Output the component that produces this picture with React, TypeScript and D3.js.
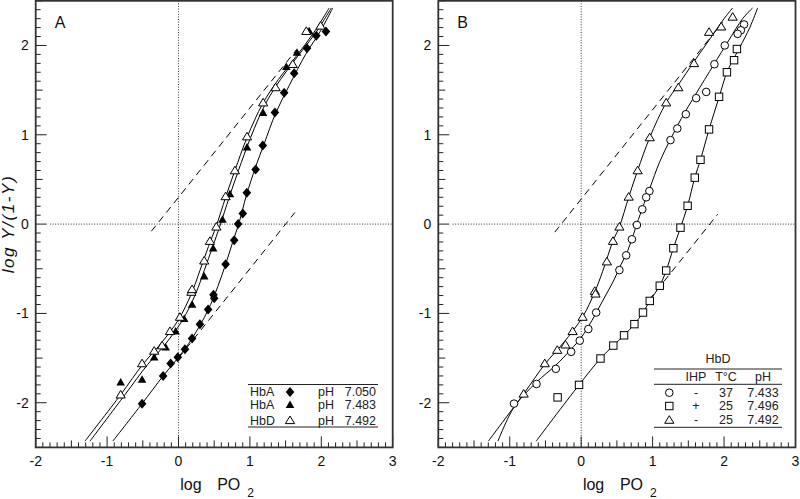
import React from "react";
import * as d3 from "d3";

const W = 800;
const H = 499;
const FONT = "'Liberation Sans', Arial, Helvetica, sans-serif";

// ---------- Panel A data (log PO2, log Y/(1-Y)) ----------
const hbA7050: [number, number][] = [
  [2.065, 2.155], [1.93, 2.11], [1.8, 1.97], [1.62, 1.69], [1.48, 1.47], [1.35, 1.25],
  [1.18, 0.88], [1.08, 0.61], [0.957, 0.35], [0.9, 0.12], [0.835, 0.0], [0.78, -0.18],
  [0.66, -0.45], [0.49, -0.79], [0.5, -0.83], [0.415, -0.955], [0.3, -1.12], [0.19, -1.28],
  [0.09, -1.4], [-0.01, -1.49], [-0.11, -1.56], [-0.215, -1.7], [-0.51, -2.01],
];
const hbA7483: [number, number][] = [
  [1.83, 2.16], [1.66, 1.92], [1.51, 1.76], [1.185, 1.245], [0.96, 0.86], [0.72, 0.336],
  [0.616, 0.05], [0.485, -0.27], [0.36, -0.585], [0.19, -0.9], [0.08, -1.06], [-0.04, -1.2],
  [-0.18, -1.38], [-0.34, -1.49], [-0.51, -1.74], [-0.81, -1.77],
];
const hbD7492A: [number, number][] = [
  [1.99, 2.22], [1.79, 2.16], [1.6, 1.79], [1.36, 1.53], [1.185, 1.36], [0.96, 0.98],
  [0.79, 0.6], [0.66, 0.31], [0.53, -0.03], [0.44, -0.19], [0.36, -0.41], [0.18, -0.76],
  [0.19, -0.73], [0.02, -1.04], [-0.12, -1.2], [-0.23, -1.36], [-0.34, -1.42], [-0.51, -1.56],
  [-0.81, -1.91],
];

// fitted curves, panel A
const fitA7050: [number, number][] = [
  [-0.92, -2.43], [-0.51, -2.01], [-0.215, -1.7], [0.0, -1.49], [0.19, -1.28], [0.41, -0.97],
  [0.55, -0.7], [0.66, -0.45], [0.76, -0.2], [0.85, 0.02], [0.95, 0.32], [1.08, 0.64],
  [1.2, 0.9], [1.36, 1.24], [1.55, 1.55], [1.78, 1.9], [1.98, 2.15], [2.16, 2.42],
];
const fitA7483: [number, number][] = [
  [-1.24, -2.43], [-0.75, -1.91], [-0.43, -1.57], [-0.18, -1.34], [0.06, -1.07], [0.24, -0.78],
  [0.36, -0.52], [0.48, -0.25], [0.58, -0.02], [0.71, 0.3], [0.84, 0.6], [1.01, 0.97],
  [1.22, 1.35], [1.43, 1.62], [1.67, 1.88], [1.92, 2.14], [2.14, 2.42],
];
const fitA7492: [number, number][] = [
  [-1.31, -2.43], [-0.81, -1.91], [-0.5, -1.57], [-0.25, -1.34], [0.0, -1.07], [0.18, -0.78],
  [0.3, -0.52], [0.42, -0.25], [0.53, -0.02], [0.66, 0.3], [0.79, 0.6], [0.96, 0.97],
  [1.18, 1.35], [1.4, 1.62], [1.65, 1.88], [1.9, 2.15], [2.11, 2.42],
];
const asymA: [number, number][][] = [
  [[-0.38, -0.08], [1.65, 1.95]],
  [[0.0, -1.5], [1.63, 0.13]],
];

// ---------- Panel B data ----------
const circB: [number, number][] = [
  [2.28, 2.235], [2.235, 2.17], [2.19, 2.13], [2.01, 2.0], [1.865, 1.79], [1.75, 1.48],
  [1.61, 1.41], [1.465, 1.23], [1.345, 1.07], [1.25, 0.94], [0.955, 0.37], [0.91, 0.3],
  [0.855, 0.165], [0.78, -0.01], [0.71, -0.17], [0.63, -0.35], [0.535, -0.515], [0.21, -0.99],
  [0.1, -1.175], [-0.02, -1.305], [-0.14, -1.43], [-0.355, -1.62], [-0.625, -1.79], [-0.94, -2.01],
];
const squareB: [number, number][] = [
  [2.18, 1.96], [2.14, 1.835], [2.04, 1.7], [1.93, 1.425], [1.79, 1.06], [1.67, 0.72],
  [1.59, 0.52], [1.49, 0.205], [1.39, -0.04], [1.29, -0.27], [1.19, -0.52], [1.1, -0.69],
  [0.96, -0.86], [0.865, -0.99], [0.745, -1.12], [0.6, -1.245], [0.45, -1.36], [0.27, -1.505],
  [-0.03, -1.8], [-0.33, -1.94],
];
const triB: [number, number][] = [
  [2.12, 2.32], [1.96, 2.21], [1.79, 2.15], [1.58, 1.8], [1.36, 1.53], [1.19, 1.36],
  [0.96, 0.97], [0.79, 0.6], [0.665, 0.305], [0.535, -0.03], [0.445, -0.19], [0.36, -0.42],
  [0.19, -0.75], [0.2, -0.78], [0.02, -1.04], [-0.12, -1.2], [-0.22, -1.35], [-0.335, -1.41],
  [-0.51, -1.56], [-0.805, -1.9],
];
const fitCircB: [number, number][] = [
  [-1.165, -2.43], [-0.94, -2.05], [-0.625, -1.77], [-0.355, -1.58], [-0.14, -1.4], [0.0, -1.27],
  [0.15, -1.08], [0.3, -0.86], [0.45, -0.64], [0.56, -0.45], [0.65, -0.3], [0.73, -0.12],
  [0.8, 0.05], [0.88, 0.23], [0.96, 0.4], [1.1, 0.7], [1.25, 0.95], [1.4, 1.18], [1.6, 1.45],
  [1.86, 1.79], [2.06, 2.05], [2.26, 2.3], [2.4, 2.42],
];
const fitSquareB: [number, number][] = [
  [-0.63, -2.43], [-0.03, -1.8], [0.27, -1.505], [0.45, -1.36], [0.6, -1.245], [0.745, -1.12],
  [0.865, -0.99], [0.96, -0.86], [1.1, -0.69], [1.19, -0.52], [1.29, -0.27], [1.39, -0.04],
  [1.49, 0.205], [1.59, 0.52], [1.67, 0.72], [1.79, 1.06], [1.93, 1.42], [2.04, 1.7],
  [2.14, 1.86], [2.22, 1.98], [2.36, 2.2], [2.47, 2.42],
];
const fitTriB: [number, number][] = [
  [-1.3, -2.43], [-0.805, -1.9], [-0.51, -1.57], [-0.25, -1.33], [0.02, -1.04], [0.19, -0.76],
  [0.3, -0.53], [0.445, -0.19], [0.535, -0.03], [0.665, 0.3], [0.79, 0.6], [0.96, 0.97],
  [1.19, 1.36], [1.36, 1.56], [1.58, 1.82], [1.79, 2.06], [2.0, 2.3], [2.12, 2.42],
];
const asymB: [number, number][][] = [
  [[-0.37, -0.09], [1.98, 2.26]],
  [[0.95, -0.85], [1.91, 0.11]],
];

// ---------- ticks / labels ----------
const xTicks = [-2, -1, 0, 1, 2, 3];
const yTicks = [-2, -1, 0, 1, 2];
const legendA = [
  { name: "HbA", sym: "diamond", ph: "pH", val: "7.050" },
  { name: "HbA", sym: "tri", ph: "pH", val: "7.483" },
  { name: "HbD", sym: "otri", ph: "pH", val: "7.492" },
];
const legendBHead = ["IHP", "T°C", "pH"];
const legendB = [
  { sym: "circle", ihp: "-", t: "37", ph: "7.433" },
  { sym: "square", ihp: "+", t: "25", ph: "7.496" },
  { sym: "otri", ihp: "-", t: "25", ph: "7.492" },
];

const yScale = d3.scaleLinear().domain([-2.5, 2.5]).range([447.4, 0.8]);
const xScaleA = d3.scaleLinear().domain([-2, 3]).range([35.7, 392.7]);
const xScaleB = d3.scaleLinear().domain([-2, 3]).range([438.3, 795.5]);

function Marker({ type, cx, cy }: { type: string; cx: number; cy: number }) {
  const s = 1;
  switch (type) {
    case "diamond":
      return <path d={`M${cx},${cy - 5}L${cx + 4.3},${cy}L${cx},${cy + 5}L${cx - 4.3},${cy}Z`} fill="#000" />;
    case "tri":
      return <path d={`M${cx},${cy - 4.3}L${cx + 4.3},${cy + 3.2}L${cx - 4.3},${cy + 3.2}Z`} fill="#000" />;
    case "otri":
      return (
        <path d={`M${cx},${cy - 4.3}L${cx + 4.6},${cy + 3.3}L${cx - 4.6},${cy + 3.3}Z`}
          fill="#fff" stroke="#000" strokeWidth={s} />
      );
    case "circle":
      return <circle cx={cx} cy={cy} r={3.8} fill="#fff" stroke="#000" strokeWidth={s} />;
    case "square":
      return <rect x={cx - 3.7} y={cy - 3.7} width={7.4} height={7.4} fill="#fff" stroke="#000" strokeWidth={s} />;
    default:
      return null;
  }
}

function Panel({
  x, label, fits, asym, series, showYLabel,
}: {
  x: d3.ScaleLinear<number, number>;
  label: string;
  fits: [number, number][][];
  asym: [number, number][][];
  series: { data: [number, number][]; sym: string }[];
  showYLabel: boolean;
}) {
  const y = yScale;
  const [x0, x1] = x.range();
  const [y0, y1] = [y.range()[1], y.range()[0]];
  const line = d3.line<[number, number]>().x((d) => x(d[0])).y((d) => y(d[1])).curve(d3.curveCatmullRom.alpha(0.5));
  const straight = d3.line<[number, number]>().x((d) => x(d[0])).y((d) => y(d[1]));
  const cx = (x0 + x1) / 2;

  const xMinor = d3.range(-20, 31).map((v) => v / 10);
  const yMinor = d3.range(-25, 26).map((v) => v / 10);
  const tickLen = (v: number) => {
    const r = Math.round(v * 10);
    if (r % 10 === 0) return 11;
    if (r % 5 === 0) return 7;
    return 5;
  };

  return (
    <g>
      <line x1={x(-1.8)} x2={x1} y1={y(0)} y2={y(0)} stroke="#222" strokeWidth={0.9} strokeDasharray="1,1.6" />
      <line x1={x(0)} x2={x(0)} y1={y0} y2={y1} stroke="#222" strokeWidth={0.9} strokeDasharray="1,1.6" />
      {asym.map((a, i) => (
        <path key={"a" + i} d={straight(a) || ""} fill="none" stroke="#000" strokeWidth={1} strokeDasharray="7,5" />
      ))}
      {fits.map((f, i) => (
        <path key={"f" + i} d={line(f) || ""} fill="none" stroke="#000" strokeWidth={1} />
      ))}
      {series.map((s, i) => (
        <g key={"s" + i}>
          {s.data.map((d, j) => (
            <Marker key={j} type={s.sym} cx={x(d[0])} cy={y(d[1])} />
          ))}
        </g>
      ))}
      {xMinor.map((v, i) => (
        <line key={"xt" + i} x1={x(v)} x2={x(v)} y1={y1} y2={y1 - tickLen(v)} stroke="#222" strokeWidth={1} />
      ))}
      {yMinor.map((v, i) => (
        <line key={"yt" + i} x1={x0} x2={x0 + tickLen(v)} y1={y(v)} y2={y(v)} stroke="#222" strokeWidth={1} />
      ))}
      <rect x={x0} y={y0} width={x1 - x0} height={y1 - y0} fill="none" stroke="#333" strokeWidth={1.8} />
      {xTicks.map((v) => (
        <text key={"xl" + v} x={x(v)} y={466} textAnchor="middle" fontSize={14} fontFamily={FONT} fill="#111">
          {v}
        </text>
      ))}
      {yTicks.map((v) => (
        <text key={"yl" + v} x={x0 - 7} y={y(v) + 5} textAnchor="end" fontSize={14} fontFamily={FONT} fill="#111">
          {v}
        </text>
      ))}
      <text x={x0 + 19} y={28} fontSize={16} fontFamily={FONT} fill="#111">{label}</text>
      <text x={cx - 34} y={490} fontSize={16} fontFamily={FONT} fill="#111">log</text>
      <text x={cx + 3} y={490} fontSize={16} fontFamily={FONT} fill="#111">PO</text>
      <text x={cx + 33} y={497} fontSize={12} fontFamily={FONT} fill="#111">2</text>
      {showYLabel && (
        <text
          transform={`translate(14,${y(0)}) rotate(-90)`}
          textAnchor="middle"
          fontSize={17}
          letterSpacing={1.6}
          fontStyle="italic"
          fontFamily={FONT}
          fill="#111"
        >
          log Y/(1-Y)
        </text>
      )}
    </g>
  );
}

export default function App() {
  const fs = 12.5;
  return (
    <svg width={W} height={H} style={{ position: "absolute", left: 0, top: 0, background: "#fff" }}>
      <rect width={W} height={H} fill="#fff" />
      <Panel
        x={xScaleA}
        label="A"
        fits={[fitA7050, fitA7483, fitA7492]}
        asym={asymA}
        series={[
          { data: hbA7050, sym: "diamond" },
          { data: hbA7483, sym: "tri" },
          { data: hbD7492A, sym: "otri" },
        ]}
        showYLabel={true}
      />
      <Panel
        x={xScaleB}
        label="B"
        fits={[fitCircB, fitSquareB, fitTriB]}
        asym={asymB}
        series={[
          { data: circB, sym: "circle" },
          { data: squareB, sym: "square" },
          { data: triB, sym: "otri" },
        ]}
        showYLabel={false}
      />
      <g fontFamily={FONT} fontSize={fs} fill="#222">
        <line x1={248} x2={378} y1={384.5} y2={384.5} stroke="#222" strokeWidth={1} />
        <line x1={248} x2={378} y1={427} y2={427} stroke="#222" strokeWidth={1} />
        {legendA.map((r, i) => {
          const yy = [392, 404.7, 420.3][i];
          return (
            <g key={"la" + i}>
              <text x={250} y={yy + 4.3}>{r.name}</text>
              <Marker type={r.sym} cx={290} cy={yy} />
              <text x={318} y={yy + 4.3}>{r.ph}</text>
              <text x={376} y={yy + 4.3} textAnchor="end">{r.val}</text>
            </g>
          );
        })}
      </g>
      <g fontFamily={FONT} fontSize={fs} fill="#222">
        <text x={718} y={362.5} textAnchor="middle">HbD</text>
        <line x1={654} x2={782} y1={369} y2={369} stroke="#222" strokeWidth={1} />
        {legendBHead.map((h, i) => (
          <text key={"hb" + i} x={[696, 726, 763][i]} y={381} textAnchor="middle">{h}</text>
        ))}
        <line x1={654} x2={782} y1={384.3} y2={384.3} stroke="#222" strokeWidth={1} />
        {legendB.map((r, i) => {
          const yy = [392.7, 406, 420][i];
          return (
            <g key={"lb" + i}>
              <Marker type={r.sym} cx={669.3} cy={yy} />
              <text x={696} y={yy + 4.3} textAnchor="middle">{r.ihp}</text>
              <text x={726} y={yy + 4.3} textAnchor="middle">{r.t}</text>
              <text x={763} y={yy + 4.3} textAnchor="middle">{r.ph}</text>
            </g>
          );
        })}
        <line x1={654} x2={782} y1={427.3} y2={427.3} stroke="#222" strokeWidth={1} />
      </g>
    </svg>
  );
}
